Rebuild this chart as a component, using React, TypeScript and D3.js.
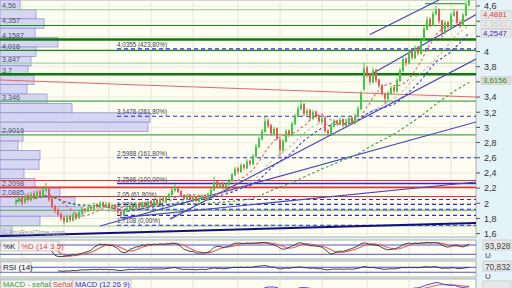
import React from 'react';
import * as d3 from 'd3';

// [open, high, low, close]
const candles: [number, number, number, number][] = [
  [2.00,2.06,1.97,2.02],[2.03,2.10,2.00,2.08],[2.07,2.09,1.97,2.00],[2.01,2.13,1.99,2.10],[2.11,2.14,2.02,2.05],
  [2.04,2.15,2.02,2.12],[2.13,2.16,2.05,2.08],[2.07,2.18,2.05,2.15],[2.16,2.18,2.07,2.10],[2.09,2.20,2.07,2.18],
  [2.17,2.27,2.14,2.20],[2.19,2.21,2.02,2.05],[2.06,2.08,1.93,1.95],[1.96,1.98,1.87,1.90],[1.91,1.94,1.83,1.85],
  [1.86,1.88,1.77,1.80],[1.81,1.84,1.72,1.76],[1.75,1.85,1.74,1.82],[1.83,1.85,1.75,1.78],[1.77,1.88,1.76,1.85],
  [1.86,1.87,1.78,1.80],[1.81,1.90,1.79,1.88],[1.87,1.95,1.85,1.92],[1.93,1.94,1.87,1.90],[1.89,1.98,1.88,1.95],
  [1.96,1.97,1.90,1.93],[1.92,2.01,1.91,1.98],[1.99,2.00,1.93,1.95],[1.94,2.03,1.93,2.00],[2.01,2.02,1.94,1.96],
  [1.95,2.02,1.94,1.99],[2.00,2.01,1.92,1.94],[1.93,1.99,1.91,1.97],[1.98,1.99,1.90,1.92],[1.93,1.94,1.86,1.88],
  [1.89,1.90,1.82,1.85],[1.84,1.92,1.83,1.90],[1.89,1.95,1.88,1.93],[1.92,1.98,1.91,1.96],[1.97,1.98,1.92,1.94],
  [1.93,2.01,1.92,1.99],[2.00,2.01,1.94,1.96],[1.95,2.02,1.94,2.00],[2.01,2.02,1.95,1.97],[1.96,2.04,1.95,2.02],
  [2.03,2.04,1.97,1.99],[1.98,2.06,1.97,2.04],[2.05,2.06,1.99,2.01],[2.00,2.08,1.99,2.06],[2.07,2.08,2.01,2.03],
  [2.02,2.10,2.01,2.08],[2.07,2.14,2.06,2.12],[2.11,2.20,2.10,2.18],[2.17,2.25,2.15,2.22],[2.21,2.23,2.13,2.15],
  [2.16,2.17,2.08,2.10],[2.11,2.12,2.04,2.06],[2.05,2.12,2.04,2.10],[2.11,2.12,2.03,2.05],[2.04,2.10,2.03,2.08],
  [2.09,2.10,2.01,2.03],[2.02,2.09,2.01,2.07],[2.06,2.12,2.05,2.10],[2.11,2.12,2.03,2.05],[2.04,2.14,2.03,2.12],
  [2.11,2.20,2.10,2.18],[2.17,2.35,2.16,2.28],[2.29,2.30,2.20,2.22],[2.21,2.28,2.20,2.26],[2.27,2.28,2.18,2.20],
  [2.19,2.27,2.18,2.25],[2.24,2.32,2.23,2.30],[2.29,2.40,2.28,2.38],[2.37,2.48,2.36,2.45],[2.46,2.48,2.39,2.42],
  [2.41,2.53,2.40,2.50],[2.51,2.52,2.44,2.47],[2.46,2.58,2.45,2.55],[2.56,2.57,2.49,2.52],[2.51,2.65,2.50,2.62],
  [2.61,2.78,2.60,2.75],[2.74,2.88,2.73,2.85],[2.84,2.98,2.83,2.95],[2.94,3.14,2.93,3.08],[3.09,3.12,2.99,3.02],
  [3.03,3.05,2.89,2.92],[2.91,3.01,2.90,2.98],[2.99,3.00,2.83,2.85],[2.84,2.86,2.62,2.70],[2.69,2.85,2.68,2.82],
  [2.81,2.98,2.80,2.95],[2.96,2.97,2.87,2.90],[2.89,3.08,2.88,3.05],[3.04,3.18,3.03,3.15],[3.14,3.28,3.13,3.25],
  [3.24,3.36,3.23,3.30],[3.31,3.32,3.15,3.18],[3.17,3.25,3.16,3.22],[3.23,3.24,3.09,3.12],[3.11,3.23,3.10,3.20],
  [3.21,3.22,3.12,3.15],[3.16,3.17,3.05,3.08],[3.07,3.15,3.06,3.12],[3.13,3.14,2.93,2.95],[2.96,2.98,2.88,2.92],
  [2.91,3.05,2.90,3.02],[3.01,3.11,3.00,3.08],[3.09,3.10,3.02,3.05],[3.04,3.13,3.03,3.10],[3.11,3.12,3.00,3.03],
  [3.02,3.11,3.01,3.08],[3.07,3.15,3.06,3.12],[3.13,3.14,3.04,3.06],[3.05,3.18,3.04,3.15],[3.14,3.28,3.13,3.25],
  [3.24,3.48,3.23,3.45],[3.50,3.85,3.48,3.78],[3.79,3.81,3.66,3.70],[3.71,3.72,3.56,3.60],[3.59,3.79,3.58,3.75],
  [3.76,3.77,3.59,3.62],[3.63,3.64,3.52,3.55],[3.56,3.57,3.42,3.45],[3.44,3.46,3.30,3.38],[3.37,3.48,3.36,3.45],
  [3.44,3.55,3.43,3.52],[3.53,3.54,3.45,3.48],[3.47,3.65,3.46,3.62],[3.61,3.78,3.60,3.75],[3.74,3.93,3.73,3.90],
  [3.91,3.92,3.81,3.85],[3.84,4.03,3.83,4.00],[4.01,4.02,3.89,3.92],[3.91,4.08,3.90,4.05],[4.06,4.07,3.95,3.98],
  [3.97,4.18,3.96,4.15],[4.14,4.33,4.13,4.30],[4.29,4.46,4.28,4.42],[4.43,4.45,4.32,4.35],[4.34,4.53,4.33,4.50],
  [4.49,4.60,4.48,4.55],[4.56,4.57,4.37,4.40],[4.41,4.42,4.18,4.25],[4.24,4.41,4.23,4.38],[4.39,4.40,4.29,4.32],
  [4.31,4.51,4.30,4.48],[4.47,4.56,4.46,4.52],[4.53,4.54,4.35,4.38],[4.39,4.40,4.31,4.35],[4.34,4.51,4.33,4.48],
  [4.47,4.66,4.46,4.62],[4.61,4.75,4.60,4.70],
];

const yTicks = [1.6, 1.8, 2, 2.2, 2.4, 2.6, 2.8, 3, 3.2, 3.4, 3.6, 3.8, 4, 4.2, 4.4, 4.6];
// labels of the ticks that are not hidden behind the value boxes ('' = hidden)
const yTickLabels = ['1,6','1,8','2','2,2','2,4','2,6','2,8','3','3,2','3,4','','3,8','4','','','4,6'];

// volume profile (price bins from the top)
const profileTop = 4.679;
const profileBin = 0.1239;
const profileVolumes = [20,36,44,35,58,36,31,28,34,27,47,72,150,148,23,18,40,39,24,35,60,75,83,40,12];
const profileLabels = ['4,56','4,357','4,1587','4,016','3,847','3,7','3,346','2,9019','2,2098','2,0885'];
const profileLabelValues = [4.56, 4.357, 4.1587, 4.016, 3.847, 3.7, 3.346, 2.9019, 2.2098, 2.0885];

// horizontal support / resistance levels
const greenLevels = [4.55, 4.343, 4.1587, 4.016, 3.847, 3.70, 3.346, 2.9019, 1.908, 1.70];
const greenKinds = ['light','dark','thick','dark','light','thick','mid','mid','mid','light'];
const redLevels = [2.30, 2.2098, 2.0885];

// fibonacci extension levels
const fibValues = [4.0355, 3.1476, 2.5988, 2.2596, 2.05, 1.9852, 1.9204, 1.8403, 1.7108];
const fibLabels = ['4,0355 (423,80%)','3,1476 (261,80%)','2,5988 (161,80%)','2,2596 (100,00%)','2,05 (61,80%)','','1,9204 (38,20%)','','1,7108 (0,00%)'];

// trend lines: [index1, price1, index2, price2]
const blueTrends: [number, number, number, number][] = [
  [34.67, 1.806, 153.33, 2.280],
  [28, 1.700, 153.33, 3.071],
  [51.33, 1.791, 153.33, 3.901],
  [118, 4.224, 141, 4.679],
  [118, 3.690, 153.33, 4.487],
];
const navyTrend: [number, number, number, number] = [-5.33, 1.568, 153.33, 1.740];
const redTrend: [number, number, number, number] = [-5.33, 3.625, 153.33, 3.400];
const topLevel: [number, number, number] = [136.33, 149.67, 4.63];

const maPeriods = [10, 20, 25, 67];
const maColors = ['#ee5a5a', '#b8b8b8', '#3a3ad0', '#3a9a3a'];
const maLastValues = ['4,4881', '4,3583', '4,2547', '3,6156'];
const maLastNums = [4.4881, 4.3583, 4.2547, 3.6156];
const maTextColors = ['#e04040', '#d0d0d0', '#3030c0', '#2a8a2a'];

const gridIdx = [2, 16, 31, 45, 59, 74, 88, 102, 117, 131, 145];

const stochLast = '93,928';
const rsiLast = '70,832';

function sma(a: number[], p: number) {
  return a.map((_, i) => {
    const s = a.slice(Math.max(0, i - p + 1), i + 1);
    return d3.mean(s) as number;
  });
}
function ema(a: number[], p: number) {
  const k = 2 / (p + 1);
  const out: number[] = [];
  a.forEach((v, i) => out.push(i === 0 ? v : v * k + out[i - 1] * (1 - k)));
  return out;
}

export default function App() {
  const W = 512;
  const plotR = 476;
  const N = candles.length;
  const x = d3.scaleLinear().domain([0, N - 1]).range([16, 469]);
  const y = d3.scaleLinear().domain([1.6, 4.6]).range([233.6, 6]);
  const closes = candles.map(c => c[3]);
  const highs = candles.map(c => c[1]);
  const lows = candles.map(c => c[2]);

  const mas = maPeriods.map(p => sma(closes, p));

  // stochastic
  const rawK = closes.map((c, i) => {
    const hh = d3.max(highs.slice(Math.max(0, i - 13), i + 1)) as number;
    const ll = d3.min(lows.slice(Math.max(0, i - 13), i + 1)) as number;
    return hh === ll ? 50 : (100 * (c - ll)) / (hh - ll);
  });
  const kLine = sma(rawK, 3);
  const dLine = sma(kLine, 5);
  // RSI
  const rsi: (number | null)[] = [];
  let ag = 0, al = 0;
  closes.forEach((c, i) => {
    if (i === 0) { rsi.push(null); return; }
    const ch = c - closes[i - 1];
    const g = Math.max(ch, 0), l = Math.max(-ch, 0);
    if (i <= 14) { ag += g / 14; al += l / 14; rsi.push(i === 14 ? 100 - 100 / (1 + ag / (al || 1e-9)) : null); return; }
    ag = (ag * 13 + g) / 14; al = (al * 13 + l) / 14;
    rsi.push(100 - 100 / (1 + ag / (al || 1e-9)));
  });
  // MACD
  const e12 = ema(closes, 12), e26 = ema(closes, 26);
  const macd = e12.map((v, i) => v - e26[i]);
  const sig = ema(macd, 9);
  const hist = macd.map((v, i) => v - sig[i]);

  const yS = d3.scaleLinear().domain([0, 100]).range([257.4, 241.9]);
  const yR = d3.scaleLinear().domain([0, 100]).range([276, 263.5]);
  const mMax = d3.max(macd) as number;
  const yM = d3.scaleLinear().domain([0, mMax]).range([300, 282.5]);

  const line = (arr: (number | null)[], sc: (v: number) => number) =>
    d3.line<number | null>().defined(v => v !== null).x((_, i) => x(i)).y(v => sc(v as number))(arr) || '';

  const font = '"Liberation Sans", Arial, sans-serif';
  const green = { light: ['#8fd08f', 1], dark: ['#1a8a1a', 1.2], thick: ['#0a7a0a', 2.4], mid: ['#4aa84a', 1.2] } as any;
  const profX = d3.scaleLinear().domain([0, 150]).range([0, 150]);
  const boxOffset = [0, 0, 1, 0];

  return (
    <svg width={W} height={288} style={{ position: 'absolute', left: 0, top: 0, fontFamily: font }}>
      <defs>
        <clipPath id="main"><rect x={0} y={0} width={plotR} height={237} /></clipPath>
        <clipPath id="macd"><rect x={0} y={279} width={plotR} height={12} /></clipPath>
      </defs>
      <rect x={0} y={0} width={W} height={288} fill="#e3f3f8" />
      {/* panels */}
      <rect x={0} y={0} width={plotR} height={237} fill="#fdfdf1" stroke="#a8b0b0" strokeWidth={1} />
      <rect x={0} y={240} width={plotR} height={19} fill="#fdfdf1" stroke="#a8b0b0" />
      <rect x={0} y={261} width={plotR} height={16} fill="#fdfdf1" stroke="#a8b0b0" />
      <rect x={0} y={279} width={plotR} height={14} fill="#fdfdf1" stroke="#a8b0b0" />

      <g clipPath="url(#main)">
        {/* grid */}
        {gridIdx.map((g, i) => <line key={'gv' + i} x1={x(g)} x2={x(g)} y1={0} y2={237} stroke="#e4e4d6" strokeWidth={1} />)}
        {yTicks.map((t, i) => <line key={'gh' + i} x1={0} x2={plotR} y1={y(t)} y2={y(t)} stroke="#ececde" strokeWidth={1} />)}
        {/* volume profile */}
        {profileVolumes.map((v, i) => {
          const top = y(profileTop - i * profileBin);
          const bot = y(profileTop - (i + 1) * profileBin);
          return <rect key={'pv' + i} x={0} y={top} width={profX(v)} height={bot - top} fill="#cfcff3" fillOpacity={0.85} stroke="#9494d4" strokeWidth={0.8} />;
        })}
        {profileLabels.map((l, i) => (
          <text key={'pl' + i} x={2} y={y(profileLabelValues[i]) - 1.5} fontSize={7.2} fill="#505060">{l}</text>
        ))}
        {/* levels */}
        {greenLevels.map((v, i) => (
          <line key={'gl' + i} x1={0} x2={plotR} y1={y(v)} y2={y(v)} stroke={green[greenKinds[i]][0]} strokeWidth={green[greenKinds[i]][1]} />
        ))}
        <line x1={x(topLevel[0])} x2={x(topLevel[1])} y1={y(topLevel[2])} y2={y(topLevel[2])} stroke="#1a8a1a" strokeWidth={1} />
        {redLevels.map((v, i) => (
          <line key={'rl' + i} x1={0} x2={plotR} y1={y(v)} y2={y(v)} stroke="#ee3030" strokeWidth={i === 1 ? 1.6 : 1.1} />
        ))}
        <line x1={x(redTrend[0])} y1={y(redTrend[1])} x2={x(redTrend[2])} y2={y(redTrend[3])} stroke="#e06a6a" strokeWidth={1} />
        {fibValues.map((v, i) => (
          <line key={'fl' + i} x1={117} x2={plotR} y1={y(v)} y2={y(v)} stroke="#2828e0" strokeWidth={i === 3 ? 1.4 : 1.1} strokeDasharray={i === 3 ? undefined : '4,3'} />
        ))}
        {fibLabels.map((l, i) => (l ?
          <text key={'ft' + i} x={117} y={y(fibValues[i]) - 2} fontSize={6.3} fill="#404050">{l}</text> : null
        ))}
        {/* trend lines */}
        <line x1={x(navyTrend[0])} y1={y(navyTrend[1])} x2={x(navyTrend[2])} y2={y(navyTrend[3])} stroke="#10107a" strokeWidth={2} />
        {blueTrends.map((t, i) => (
          <line key={'bt' + i} x1={x(t[0])} y1={y(t[1])} x2={x(t[2])} y2={y(t[3])} stroke="#4444c4" strokeWidth={1.2} />
        ))}
        {/* moving averages */}
        {mas.map((m, i) => (
          <path key={'ma' + i} d={line(m, y)} fill="none" stroke={maColors[i]} strokeWidth={1.1} strokeDasharray="2.5,2.5" />
        ))}
        {/* candles */}
        {candles.map((c, i) => {
          const up = c[3] >= c[0];
          const col = up ? '#3ecb3e' : '#e85858';
          const cx = x(i);
          return (
            <g key={'c' + i}>
              <line x1={cx} x2={cx} y1={y(c[1])} y2={y(c[2])} stroke={col} strokeWidth={1} />
              <rect x={cx - 1} y={y(Math.max(c[0], c[3]))} width={2} height={Math.max(1, Math.abs(y(c[0]) - y(c[3])))} fill={col} />
            </g>
          );
        })}
        <text x={2} y={235} fontSize={7} fill="#9a9aa8">© ProRealTime.com</text>
      </g>

      {/* right axis */}
      {yTicks.map((t, i) => (
        <g key={'yt' + i}>
          <line x1={plotR} x2={plotR + 4} y1={y(t)} y2={y(t)} stroke="#555" />
          {yTickLabels[i] ? <text x={484} y={y(t) + 3.3} fontSize={9} fill="#333">{yTickLabels[i]}</text> : null}
        </g>
      ))}
      {maLastValues.map((l, i) => {
        const cy = y(maLastNums[i]) + boxOffset[i];
        return (
          <g key={'mb' + i}>
            <rect x={481} y={cy - 4} width={30} height={8} fill={i === 3 ? '#dcdcd4' : '#e8e8e8'} stroke="#c8c8c8" strokeWidth={0.6} />
            <text x={483} y={cy + 2.8} fontSize={7.8} fill={maTextColors[i]}>{l}</text>
          </g>
        );
      })}

      {/* stochastic panel */}
      {gridIdx.map((g, i) => <line key={'sg' + i} x1={x(g)} x2={x(g)} y1={240} y2={259} stroke="#e4e4d6" />)}
      <line x1={0} x2={plotR} y1={yS(80)} y2={yS(80)} stroke="#5050e0" strokeWidth={1} />
      <line x1={0} x2={plotR} y1={yS(20)} y2={yS(20)} stroke="#5050e0" strokeWidth={1} />
      <path d={line(dLine, yS)} fill="none" stroke="#e86060" strokeWidth={1.1} />
      <path d={line(kLine, yS)} fill="none" stroke="#333" strokeWidth={0.9} />
      <rect x={1} y={241} width={18} height={10} fill="#f4f4f4" stroke="#b0b0b0" strokeWidth={0.6} />
      <text x={3} y={249} fontSize={8} fill="#222">%K</text>
      <rect x={19} y={241} width={40} height={10} fill="#f4f4f4" stroke="#b0b0b0" strokeWidth={0.6} />
      <text x={21} y={249} fontSize={8} fill="#e04040">%D (14 3 5)</text>
      <rect x={483} y={240} width={28} height={10} fill="#e8e8e8" stroke="#c0c0c0" strokeWidth={0.6} />
      <text x={485} y={248.5} fontSize={8.3} fill="#444">{stochLast}</text>
      <text x={485} y={258} fontSize={8} fill="#444">U</text>

      {/* RSI panel */}
      {gridIdx.map((g, i) => <line key={'rg' + i} x1={x(g)} x2={x(g)} y1={261} y2={277} stroke="#e4e4d6" />)}
      <line x1={0} x2={plotR} y1={yR(70)} y2={yR(70)} stroke="#5050e0" />
      <line x1={0} x2={plotR} y1={yR(30)} y2={yR(30)} stroke="#5050e0" />
      <path d={line(rsi, yR)} fill="none" stroke="#333" strokeWidth={0.9} />
      <rect x={1} y={262} width={30} height={10} fill="#f4f4f4" stroke="#b0b0b0" strokeWidth={0.6} />
      <text x={3} y={270} fontSize={8} fill="#222">RSI (14)</text>
      <rect x={483} y={261} width={28} height={10} fill="#e8e8e8" stroke="#c0c0c0" strokeWidth={0.6} />
      <text x={485} y={269.5} fontSize={8.3} fill="#444">{rsiLast}</text>
      <text x={485} y={278.5} fontSize={8} fill="#444">U</text>

      {/* MACD panel */}
      <g clipPath="url(#macd)">
        {gridIdx.map((g, i) => <line key={'mg' + i} x1={x(g)} x2={x(g)} y1={279} y2={290} stroke="#e4e4d6" />)}
        <path d={line(hist, yM)} fill="none" stroke="#40b040" strokeWidth={1} />
        <path d={line(sig, yM)} fill="none" stroke="#e86060" strokeWidth={1} />
        <path d={line(macd, yM)} fill="none" stroke="#4a4ae0" strokeWidth={1} />
      </g>
      <rect x={1} y={280} width={50} height={9} fill="#f4f4f4" stroke="#b0b0b0" strokeWidth={0.6} />
      <text x={3} y={287} fontSize={7.6} fill="#30a030">MACD - señal</text>
      <rect x={51} y={280} width={22} height={9} fill="#f4f4f4" stroke="#b0b0b0" strokeWidth={0.6} />
      <text x={53} y={287} fontSize={7.6} fill="#e04040">Señal</text>
      <rect x={73} y={280} width={58} height={9} fill="#f4f4f4" stroke="#b0b0b0" strokeWidth={0.6} />
      <text x={75} y={287} fontSize={7.6} fill="#3030c0">MACD (12 26 9)</text>
      <rect x={483} y={281} width={28} height={10} fill="#e8e8e8" stroke="#c0c0c0" strokeWidth={0.6} />
    </svg>
  );
}
